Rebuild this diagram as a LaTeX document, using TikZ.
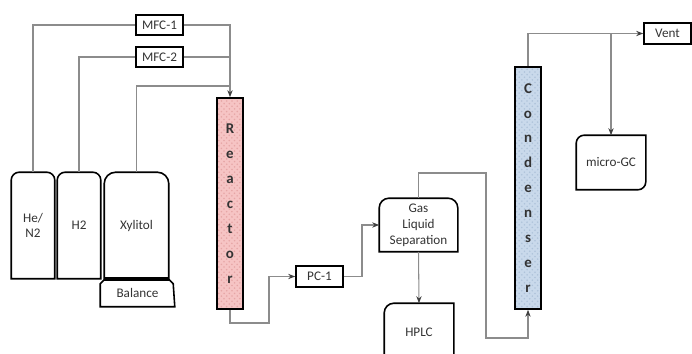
\documentclass[tikz,border=0pt]{standalone}
\usepackage{fontspec}
\setmainfont{Carlito}
\usetikzlibrary{arrows.meta, positioning, patterns}
\definecolor{reactfill}{HTML}{F6C4C4}
\definecolor{reactdots}{HTML}{E6A6A6}
\definecolor{condfill}{HTML}{C9D9EB}
\definecolor{conddots}{HTML}{AFC3DA}

\begin{document}
\begin{tikzpicture}[x=0.02cm, y=-0.02cm, line width=0.9pt,
    unit/.style={font=\fontsize{7.5}{9}\selectfont, text=black!80, align=center, inner sep=0pt},
    box/.style={unit, draw, minimum width=0.94cm, minimum height=0.41cm},
    pipe/.style={black!45, line width=0.6pt},
    flow/.style={pipe, -{Stealth[length=4pt, width=3pt, color=black!75]}},
    column/.style={draw, minimum width=0.52cm, inner sep=0pt},
    letters/.style={font=\fontsize{8.5}{14.2}\selectfont\bfseries, text=black!80, align=center, inner sep=0pt}]

    \useasboundingbox (0,0) rectangle (692,354);

    % Feed tanks
    \node[unit, minimum width=0.84cm, minimum height=2.1cm] (hen2) at (33,225.5) {He/\\N2};
    \node[unit, minimum width=0.84cm, minimum height=2.1cm] (h2) at (79,225.5) {H2};
    \node[unit, minimum width=1.26cm, minimum height=2.1cm] (xyl) at (136.5,225.5) {Xylitol};
    \node[unit, minimum width=1.46cm, minimum height=0.54cm] (bal) at (137.5,292.5) {Balance};

    \draw (hen2.south west) [rounded corners=4.5pt] -- (hen2.north west) -- (hen2.north east) [sharp corners] -- (hen2.south east) -- cycle;
    \draw (h2.south west) [rounded corners=4.5pt] -- (h2.north west) -- (h2.north east) [sharp corners] -- (h2.south east) -- cycle;
    \draw (xyl.south west) [rounded corners=6.5pt] -- (xyl.north west) -- (xyl.north east) [sharp corners] -- (xyl.south east) -- cycle;
    \draw[line width=2pt] (xyl.south west) -- (xyl.south east);
    \draw (bal.south west) -- ++(0,-23) -- ++(4,-4) -- ++(65,0) -- ++(4,4) -- (bal.south east) -- cycle;

    % Mass flow controllers
    \node[box] (mfc1) at (159.5,25) {MFC-1};
    \node[box] (mfc2) at (159.5,57) {MFC-2};

    % Reactor column
    \node[column, minimum height=4.22cm, preaction={fill=reactfill}, pattern=crosshatch dots, pattern color=reactdots] (reactor) at (230,203.5) {};
    \node[letters] (rlabel) at (reactor) {R\\e\\a\\c\\t\\o\\r};

    % Pressure controller and separation
    \node[box] (pc1) at (319.5,276.5) {PC-1};
    \node[unit, minimum width=1.54cm, minimum height=1.04cm] (gls) at (418.5,225) {Gas\\Liquid\\Separation};
    \draw (gls.south west) [rounded corners=5.5pt] -- (gls.north west) -- (gls.north east) [sharp corners] -- (gls.south east) -- cycle;
    \node[unit, minimum width=1.36cm, minimum height=1.12cm] (hplc) at (419,332) {HPLC};
    \draw (hplc.south west) [rounded corners=5.5pt] -- (hplc.north west) [sharp corners] -- (hplc.north east) -- (hplc.south east) -- cycle;

    % Condenser column
    \node[column, minimum height=4.84cm, preaction={fill=condfill}, pattern=crosshatch dots, pattern color=conddots] (cond) at (528,188) {};
    \node[letters] (clabel) at (cond) {C\\o\\n\\d\\e\\n\\s\\e\\r};

    % Outlets
    \node[box] (vent) at (667.5,33.5) {Vent};
    \node[unit, minimum width=1.36cm, minimum height=1.06cm] (mgc) at (611,162.5) {micro-GC};
    \draw (mgc.south) -- (mgc.south west) [rounded corners=4.5pt] -- (mgc.north west) [sharp corners] -- (mgc.north east) [rounded corners=4.5pt] -- (mgc.south east) [sharp corners] -- (mgc.south);

    % Feed lines
    \coordinate (xylin) at (reactor.north |- 0,86);
    \draw[pipe] (hen2.north) |- (mfc1.west);
    \draw[pipe] (h2.north) |- (mfc2.west);
    \draw[pipe] (mfc2.east) -- (mfc2.east -| reactor.north);
    \draw[pipe] (xyl.north) |- (xylin);
    \draw[flow] (mfc1.east) -| (reactor.north);

    % Product lines
    \coordinate (rbend) at (269,323);
    \coordinate (pbend) at (362,225);
    \coordinate (gtop) at (486,173);
    \coordinate (cbot) at (486,338);
    \coordinate (split) at (mgc.north |- vent.west);
    \draw[flow] (reactor.south) |- (rbend) |- (pc1.west);
    \draw[flow] (pc1.east) -| (pbend) -- (gls.west);
    \draw[flow] (gls.south) -- (hplc.north);
    \draw[flow] (gls.north) |- (gtop) -- (cbot) -| (cond.south);
    \draw[flow] (cond.north) |- (vent.west);
    \draw[flow] (split) -- (mgc.north);
\end{tikzpicture}
\end{document}
